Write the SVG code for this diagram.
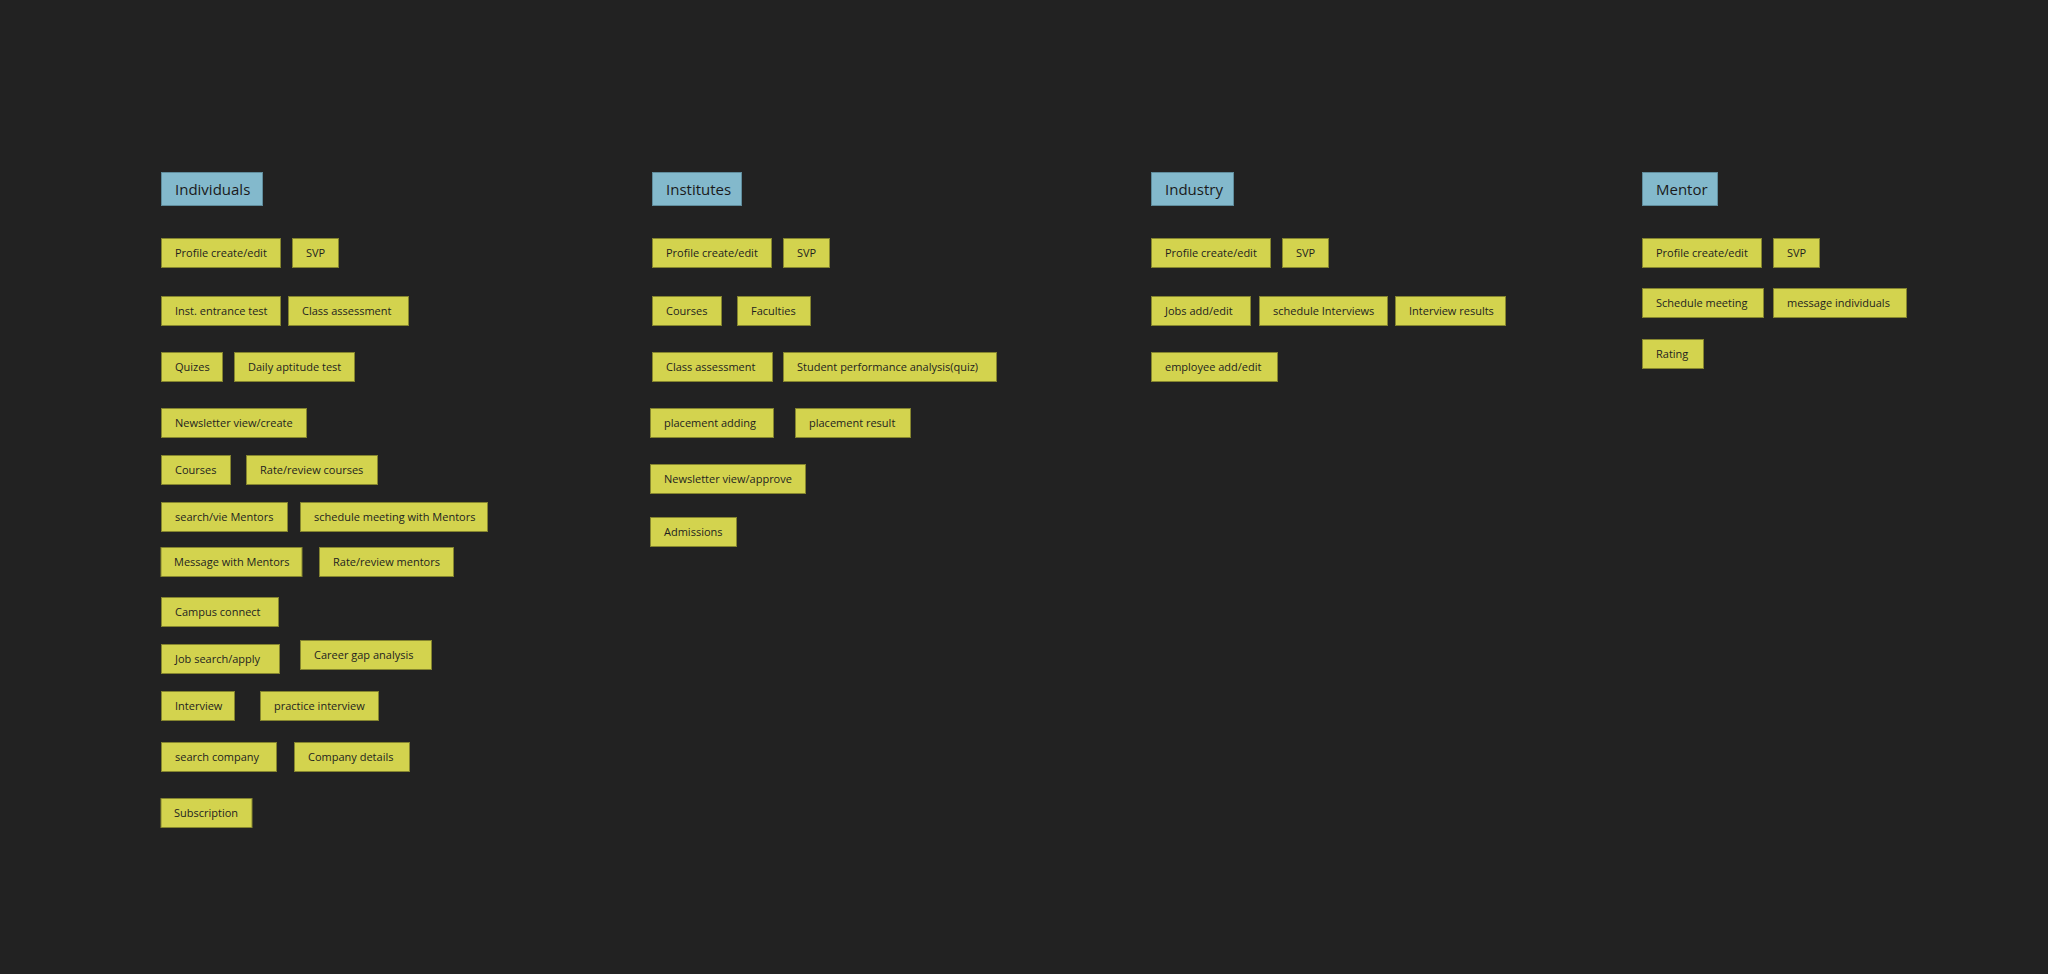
<svg xmlns="http://www.w3.org/2000/svg" width="2048" height="974" viewBox="0 0 2048 974">
<style>
.bg{fill:#222222}
.h rect{fill:#83b9cc;stroke:#5f8c9c;stroke-width:1}
.h text{font-family:"Open Sans","DejaVu Sans",sans-serif;font-size:15px;fill:#1a1a1a;dominant-baseline:central}
.n rect{fill:#d3d34e;stroke:#85852f;stroke-width:1}
.n text{font-family:"Open Sans","DejaVu Sans",sans-serif;font-size:11px;fill:#1e1e1e;dominant-baseline:central}
</style>
<rect class="bg" x="0" y="0" width="2048" height="974"/>
<g id="connectors"></g>

<!-- Individuals -->
<g id="h-individuals" class="h"><rect x="161.5" y="172.5" width="101" height="33"/><text x="175" y="188.5">Individuals</text></g>
<g id="i-profile" class="n"><rect x="161.5" y="238.5" width="119" height="29"/><text x="175" y="252.5">Profile create/edit</text></g>
<g id="i-svp" class="n"><rect x="292.5" y="238.5" width="46" height="29"/><text x="306" y="252.5">SVP</text></g>
<g id="i-inst" class="n"><rect x="161.5" y="296.5" width="119" height="29"/><text x="175" y="310.5">Inst. entrance test</text></g>
<g id="i-class" class="n"><rect x="288.5" y="296.5" width="120" height="29"/><text x="302" y="310.5">Class assessment</text></g>
<g id="i-quizes" class="n"><rect x="161.5" y="352.5" width="61" height="29"/><text x="175" y="366.5">Quizes</text></g>
<g id="i-daily" class="n"><rect x="234.5" y="352.5" width="120" height="29"/><text x="248" y="366.5">Daily aptitude test</text></g>
<g id="i-newsletter" class="n"><rect x="161.5" y="408.5" width="145" height="29"/><text x="175" y="422.5">Newsletter view/create</text></g>
<g id="i-courses" class="n"><rect x="161.5" y="455.5" width="69" height="29"/><text x="175" y="469.5">Courses</text></g>
<g id="i-rate-courses" class="n"><rect x="246.5" y="455.5" width="131" height="29"/><text x="260" y="469.5">Rate/review courses</text></g>
<g id="i-search-mentors" class="n"><rect x="161.5" y="502.5" width="126" height="29"/><text x="175" y="516.5">search/vie Mentors</text></g>
<g id="i-schedule" class="n"><rect x="300.5" y="502.5" width="187" height="29"/><text x="314" y="516.5">schedule meeting with Mentors</text></g>
<g id="i-message" class="n"><rect x="161" y="547.5" width="141" height="29"/><text x="174" y="561.5">Message with Mentors</text></g>
<g id="i-rate-mentors" class="n"><rect x="319.5" y="547.5" width="134" height="29"/><text x="333" y="561.5">Rate/review mentors</text></g>
<g id="i-campus" class="n"><rect x="161.5" y="597.5" width="117" height="29"/><text x="175" y="611.5">Campus connect</text></g>
<g id="i-job" class="n"><rect x="161.5" y="644.5" width="118" height="29"/><text x="175" y="658.5">Job search/apply</text></g>
<g id="i-career" class="n"><rect x="300.5" y="640.5" width="131" height="29"/><text x="314" y="654.5">Career gap analysis</text></g>
<g id="i-interview" class="n"><rect x="161.5" y="691.5" width="73" height="29"/><text x="175" y="705.5">Interview</text></g>
<g id="i-practice" class="n"><rect x="260.5" y="691.5" width="118" height="29"/><text x="274" y="705.5">practice interview</text></g>
<g id="i-search-company" class="n"><rect x="161.5" y="742.5" width="115" height="29"/><text x="175" y="756.5">search company</text></g>
<g id="i-company" class="n"><rect x="294.5" y="742.5" width="115" height="29"/><text x="308" y="756.5">Company details</text></g>
<g id="i-subscription" class="n"><rect x="161" y="798.5" width="91" height="29"/><text x="174" y="812.5">Subscription</text></g>

<!-- Institutes -->
<g id="h-institutes" class="h"><rect x="652.5" y="172.5" width="89" height="33"/><text x="666" y="188.5">Institutes</text></g>
<g id="s-profile" class="n"><rect x="652.5" y="238.5" width="119" height="29"/><text x="666" y="252.5">Profile create/edit</text></g>
<g id="s-svp" class="n"><rect x="783.5" y="238.5" width="46" height="29"/><text x="797" y="252.5">SVP</text></g>
<g id="s-courses" class="n"><rect x="652.5" y="296.5" width="69" height="29"/><text x="666" y="310.5">Courses</text></g>
<g id="s-faculties" class="n"><rect x="737.5" y="296.5" width="73" height="29"/><text x="751" y="310.5">Faculties</text></g>
<g id="s-class" class="n"><rect x="652.5" y="352.5" width="120" height="29"/><text x="666" y="366.5">Class assessment</text></g>
<g id="s-student" class="n"><rect x="783.5" y="352.5" width="213" height="29"/><text x="797" y="366.5">Student performance analysis(quiz)</text></g>
<g id="s-placement-adding" class="n"><rect x="650.5" y="408.5" width="123" height="29"/><text x="664" y="422.5">placement adding</text></g>
<g id="s-placement-result" class="n"><rect x="795.5" y="408.5" width="115" height="29"/><text x="809" y="422.5">placement result</text></g>
<g id="s-newsletter" class="n"><rect x="650.5" y="464.5" width="155" height="29"/><text x="664" y="478.5">Newsletter view/approve</text></g>
<g id="s-admissions" class="n"><rect x="650.5" y="517.5" width="86" height="29"/><text x="664" y="531.5">Admissions</text></g>

<!-- Industry -->
<g id="h-industry" class="h"><rect x="1151.5" y="172.5" width="82" height="33"/><text x="1165" y="188.5">Industry</text></g>
<g id="d-profile" class="n"><rect x="1151.5" y="238.5" width="119" height="29"/><text x="1165" y="252.5">Profile create/edit</text></g>
<g id="d-svp" class="n"><rect x="1282.5" y="238.5" width="46" height="29"/><text x="1296" y="252.5">SVP</text></g>
<g id="d-jobs" class="n"><rect x="1151.5" y="296.5" width="99" height="29"/><text x="1165" y="310.5">Jobs add/edit</text></g>
<g id="d-schedule" class="n"><rect x="1259.5" y="296.5" width="128" height="29"/><text x="1273" y="310.5">schedule Interviews</text></g>
<g id="d-results" class="n"><rect x="1395.5" y="296.5" width="110" height="29"/><text x="1409" y="310.5">Interview results</text></g>
<g id="d-employee" class="n"><rect x="1151.5" y="352.5" width="126" height="29"/><text x="1165" y="366.5">employee add/edit</text></g>

<!-- Mentor -->
<g id="h-mentor" class="h"><rect x="1642.5" y="172.5" width="75" height="33"/><text x="1656" y="188.5">Mentor</text></g>
<g id="m-profile" class="n"><rect x="1642.5" y="238.5" width="119" height="29"/><text x="1656" y="252.5">Profile create/edit</text></g>
<g id="m-svp" class="n"><rect x="1773.5" y="238.5" width="46" height="29"/><text x="1787" y="252.5">SVP</text></g>
<g id="m-schedule" class="n"><rect x="1642.5" y="288.5" width="121" height="29"/><text x="1656" y="302.5">Schedule meeting</text></g>
<g id="m-message" class="n"><rect x="1773.5" y="288.5" width="133" height="29"/><text x="1787" y="302.5">message individuals</text></g>
<g id="m-rating" class="n"><rect x="1642.5" y="339.5" width="61" height="29"/><text x="1656" y="353.5">Rating</text></g>
</svg>
